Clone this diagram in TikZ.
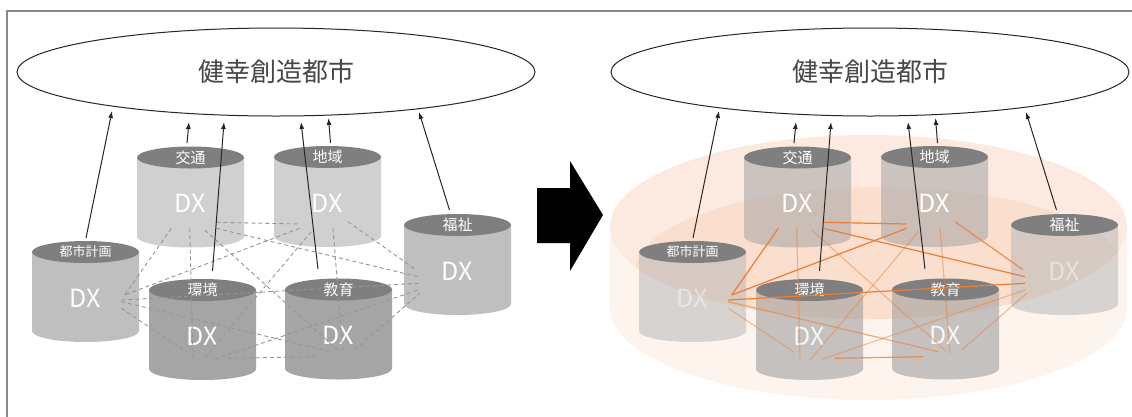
\documentclass[tikz,border=0pt]{standalone}
\usepackage{fontspec}
\setmainfont{Noto Sans CJK JP}
\usetikzlibrary{shapes.geometric,arrows.meta}

\definecolor{capgray}{HTML}{7F7F7F}
\definecolor{grayA}{HTML}{D0D0D0}
\definecolor{grayB}{HTML}{BFBFBF}
\definecolor{grayC}{HTML}{A5A5A5}
\definecolor{tgrayA}{HTML}{A4A4A4}
\definecolor{tgrayB}{HTML}{B8B8B8}
\definecolor{tgrayC}{HTML}{989898}
\definecolor{dashgray}{HTML}{959595}
\definecolor{linkorange}{HTML}{ED7D31}
\definecolor{diskside}{HTML}{FDF4EE}
\definecolor{disktop}{HTML}{FCEAE0}
\definecolor{diskband}{HTML}{FADFCE}
\definecolor{framegray}{HTML}{8A8A8A}

\tikzset{
  goal/.style={ellipse, draw=black!85, line width=1pt, minimum width=518pt,
    minimum height=88pt, inner sep=0pt, text=black!72,
    font=\fontsize{26}{26}\selectfont},
  caplabel/.style={text=white, inner sep=0pt, font=\fontsize{15}{15}\selectfont},
  smallcap/.style={font=\fontsize{13}{13}\selectfont},
  dxlabel/.style={text=white, inner sep=0pt, font=\fontsize{25}{25}\selectfont},
  bodyA/.style={fill=grayA},
  bodyB/.style={fill=grayB},
  bodyC/.style={fill=grayC},
  glassA/.style={fill=tgrayA, fill opacity=0.55},
  glassB/.style={fill=tgrayB, fill opacity=0.55},
  glassC/.style={fill=tgrayC, fill opacity=0.55},
  dxsoft/.style={text opacity=0.45},
  dxmid/.style={text opacity=0.88},
  dxfull/.style={},
  meshdash/.style={draw=dashgray, line width=0.9pt, dash pattern=on 4pt off 3pt},
  meshorange/.style={draw=linkorange, line width=1.2pt},
  risearrow/.style={draw=black!85, line width=1pt, -{Latex[length=7pt,width=5pt]}},
  framebar/.style={draw=framegray, line width=1.4pt},
}

% a data drum: body, top cap, cap label and the DX mark
% #1 name, #2 x, #3 y of cap centre, #4 label, #5 label options, #6 body style, #7 DX style
\newcommand\drum[7]{%
  \path[#6] (#2-53.5,#3) -- (#2-53.5,#3+79)
    .. controls (#2-53.5,#3+85.075) and (#2-29.55,#3+90) .. (#2,#3+90)
    .. controls (#2+29.55,#3+90) and (#2+53.5,#3+85.075) .. (#2+53.5,#3+79)
    -- (#2+53.5,#3) -- cycle;
  \fill[capgray] (#2,#3) ellipse (53.5 and 11);
  \node[caplabel,#5] (#1) at (#2,#3) {#4};
  \node[dxlabel,#7] (#1-dx) at (#2,#3+46) {DX};
}

% the links between every pair of drums
\newcommand\mesh[2]{%
  \foreach \k/\ax/\ay/\bx/\by/\op in {
    1/216.3/222.3/299.7/224/1,
    2/216.3/228.3/418/276.7/1,
    3/171.3/228.3/124.7/295/1,
    4/189.7/228.3/193/358.3/0.45,
    5/204.7/230/339.7/351.7/0.45,
    6/299.7/228.3/124.7/295/1,
    7/311.3/231.7/203/360/0.45,
    8/333/228.3/343/353.3/0.45,
    9/348/221.7/416.3/270/0.8,
    10/121.3/300/418/283.3/1,
    11/121.3/308.3/186.3/351.7/0.45,
    12/121.3/301.7/331.3/351.7/0.6,
    13/228/358.3/316.3/356.7/0.75,
    14/214.7/359.3/418/290/0.45,
    15/354.7/350/419.7/293.3/0.45}{
    \coordinate (#1\k a) at (\ax,\ay);
    \coordinate (#1\k b) at (\bx,\by);
    \draw[#2] (#1\k a) -- (#1\k b);
  }%
}

% arrows rising from the drums towards the goal
\newcommand\rise[1]{%
  \foreach \k/\ax/\ay/\bx/\by in {
    toshi/86/238/112/111,
    kotsu/187/143/189/122,
    kankyo/212.5/271/224/122,
    kyoiku/318/269/301/122,
    chiiki/330.5/143/328.5/118,
    fukushi/449.5/210/419/112}{
    \coordinate (#1\k-from) at (\ax,\ay);
    \coordinate (#1\k-to) at (\bx,\by);
    \draw[risearrow] (#1\k-from) -- (#1\k-to);
  }%
}

\begin{document}
\begin{tikzpicture}[x=1pt,y=-1pt]
\useasboundingbox (0,0) rectangle (1132,416);
\fill[white] (0,0) rectangle (1132,416);

% outer frame
\draw[framebar] (7,420) -- (7,11) -- (1140,11);

% ---------- before: separate DX silos ----------
\node[goal] (Lgoal) at (276,72) {健幸創造都市};
\drum{Lkotsu}{190.5}{157.5}{交通}{}{bodyA}{dxfull}
\drum{Lchiiki}{327.5}{157}{地域}{}{bodyA}{dxfull}
\drum{Ltoshi}{85.5}{252}{都市計画}{smallcap}{bodyB}{dxfull}
\drum{Lfukushi}{457.5}{225}{福祉}{}{bodyB}{dxfull}
\drum{Lkankyo}{202.5}{290}{環境}{}{bodyC}{dxfull}
\drum{Lkyoiku}{338.5}{289.5}{教育}{}{bodyC}{dxfull}
\mesh{L}{meshdash}
\rise{L}

% transition arrow
\fill[black] (537,188) -- (570,188) -- (570,161) -- (603,215)
  -- (570,271) -- (570,243) -- (537,243) -- cycle;

% ---------- after: DX linked on a shared platform ----------
\node[goal] (Rgoal) at (870,72) {健幸創造都市};

% platform disk
\fill[diskside] (610,227) -- (610,308)
  .. controls (610,358.8) and (725.7,400) .. (868.5,400)
  .. controls (1011.3,400) and (1127,358.8) .. (1127,308)
  -- (1127,227) -- cycle;
\fill[disktop] (868.5,227) ellipse (258.5 and 92);
\begin{scope}
  \clip (868.5,227) ellipse (258.5 and 92);
  \fill[diskband] (880,272) ellipse (245 and 85);
\end{scope}

\begin{scope}[xshift=607pt]
\drum{Rkotsu}{190.5}{157.5}{交通}{}{glassA}{dxfull}
\drum{Rchiiki}{327.5}{157}{地域}{}{glassA}{dxfull}
\drum{Rtoshi}{85.5}{252}{都市計画}{smallcap}{glassB}{dxsoft}
\drum{Rfukushi}{457.5}{225}{福祉}{}{glassB}{dxsoft}
\drum{Rkankyo}{202.5}{290}{環境}{}{glassC}{dxmid}
\drum{Rkyoiku}{338.5}{289.5}{教育}{}{glassC}{dxmid}
\mesh{R}{meshorange, draw opacity=\op}
\rise{R}
\end{scope}
\end{tikzpicture}
\end{document}
